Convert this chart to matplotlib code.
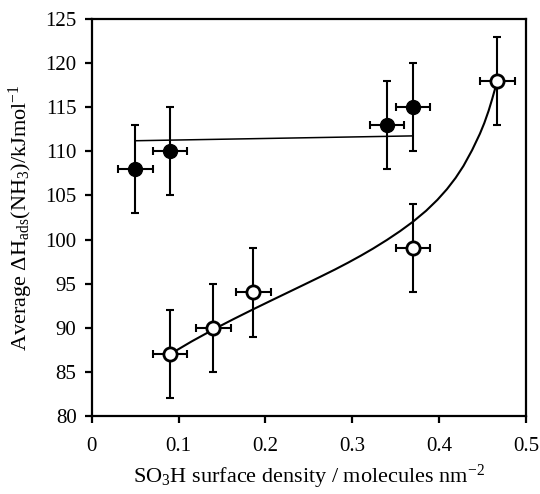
import matplotlib
matplotlib.use("Agg")
import matplotlib.pyplot as plt

# filled points (upper series)
filled_x = [0.05, 0.09, 0.34, 0.37]
filled_y = [108, 110, 113, 115]
# open points (lower series)
open_x = [0.09, 0.14, 0.186, 0.37, 0.467]
open_y = [87, 90, 94, 99, 118]
y_err = 5
x_err = 0.02

# trend lines
flat_x = [0.05, 0.37]
flat_y = [111.2, 111.75]
curve_x = [0.09, 0.115, 0.14, 0.163, 0.186, 0.205, 0.225, 0.245, 0.263, 0.28, 0.295, 0.31, 0.324, 0.34,
           0.355, 0.37, 0.385, 0.398, 0.409, 0.419, 0.428, 0.438, 0.447, 0.452, 0.457, 0.461, 0.464, 0.467]
curve_y = [87.0, 88.45, 89.8, 90.97, 92.1, 93.01, 93.96, 94.91, 95.77, 96.6, 97.37, 98.18, 98.98, 99.96,
           100.95, 102.03, 103.26, 104.5, 105.71, 106.99, 108.34, 110.14, 112.0, 113.2, 114.6, 115.9, 116.95, 118.0]

x_ticks = [0, 0.1, 0.2, 0.3, 0.4, 0.5]
x_labels = ["0", "0.1", "0.2", "0.3", "0.4", "0.5"]
y_ticks = [80, 85, 90, 95, 100, 105, 110, 115, 120, 125]

plt.rcParams['font.family'] = ['Liberation Serif', 'DejaVu Serif']
plt.rcParams['mathtext.fontset'] = 'custom'
plt.rcParams['mathtext.rm'] = 'Liberation Serif'
plt.rcParams['mathtext.it'] = 'Liberation Serif:italic'

fig = plt.figure(figsize=(5.4, 4.94), dpi=100)
ax = fig.add_axes([0.170, 0.158, 0.804, 0.8035])

ax.plot(flat_x, flat_y, color='black', lw=1.1, zorder=2)
ax.plot(curve_x, curve_y, color='black', lw=1.5, zorder=2)

err_kw = dict(fmt='none', ecolor='black', elinewidth=1.5, capsize=3, capthick=1.5, zorder=3)
ax.errorbar(filled_x, filled_y, yerr=y_err, xerr=x_err, **err_kw)
ax.errorbar(open_x, open_y, yerr=y_err, xerr=x_err, **err_kw)

ax.plot(filled_x, filled_y, 'o', ms=10, mfc='black', mec='black', zorder=4)
ax.plot(open_x, open_y, 'o', ms=9.5, mfc='white', mec='black', mew=2, zorder=4)

ax.set_xlim(0, 0.5)
ax.set_ylim(80, 125)
ax.set_xticks(x_ticks)
ax.set_xticklabels(x_labels)
ax.set_yticks(y_ticks)

for s in ax.spines.values():
    s.set_linewidth(1.6)
ax.tick_params(direction='out', length=5, width=1.6, labelsize=15, pad=6)
ax.tick_params(axis='x', pad=10)

ax.set_xlabel(r'SO$_3$H surface density / molecules nm$^{-2}$', fontsize=16)
ax.set_ylabel(r'Average $\Delta$H$_{\rm ads}$(NH$_3$)/kJmol$^{-1}$', fontsize=16)
ax.xaxis.set_label_coords(0.5, -0.118)
ax.yaxis.set_label_coords(-0.13, 0.5)

fig.savefig('out.png', dpi=100)
